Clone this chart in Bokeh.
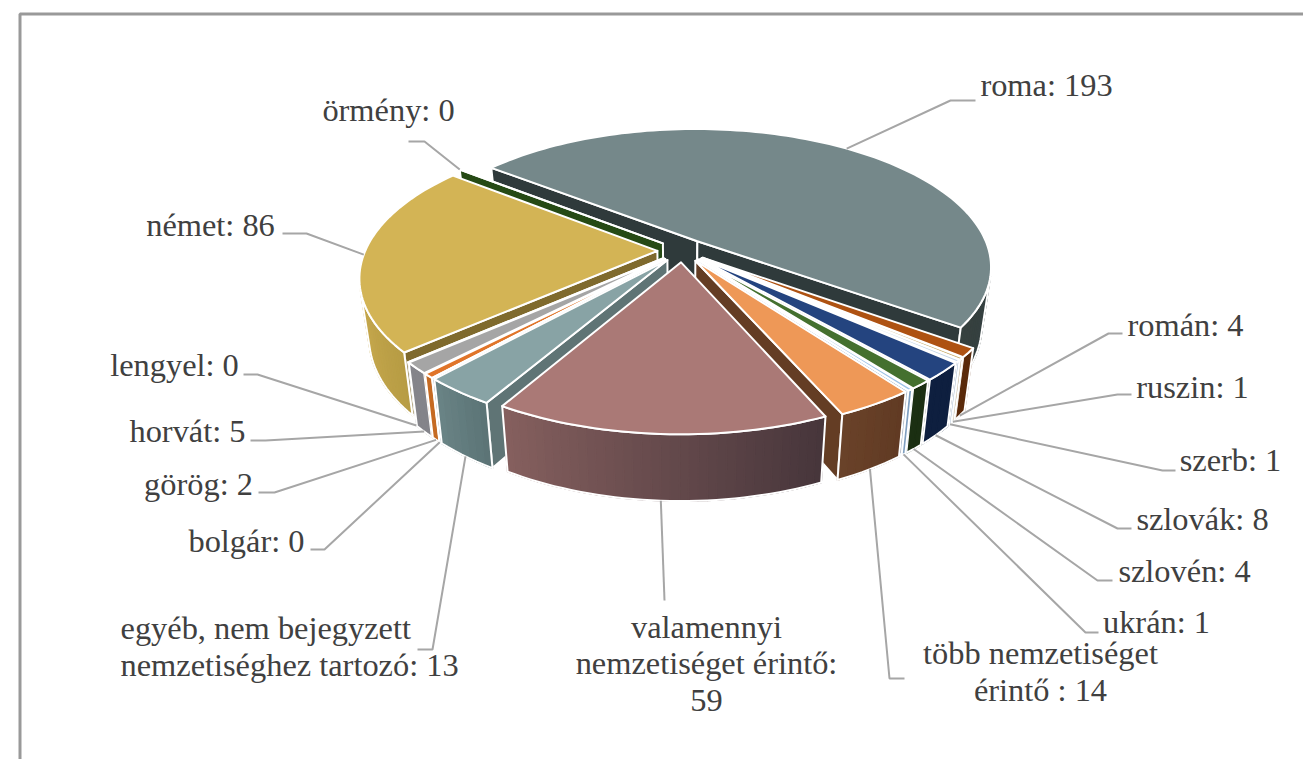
import math
from bokeh.plotting import figure
from bokeh.models import ColumnDataSource, Range1d
from bokeh.core.properties import value
from bokeh.embed import file_html
from bokeh.resources import INLINE

# ---- data (clockwise from the first slice) ----
names = ["roma", "román", "ruszin", "szerb", "szlovák", "szlovén", "ukrán", "több", "valamennyi",
         "egyéb", "bolgár", "görög", "horvát", "lengyel", "német", "örmény"]
values = [193, 4, 1, 1, 8, 4, 1, 14, 59, 13, 0, 2, 5, 0, 86, 0]
labels = ["roma: 193", "román: 4", "ruszin: 1", "szerb: 1", "szlovák: 8", "szlovén: 4", "ukrán: 1",
          "több nemzetiséget\nérintő : 14", "valamennyi\nnemzetiséget érintő:\n59",
          "egyéb, nem bejegyzett\nnemzetiséghez tartozó: 13", "bolgár: 0", "görög: 2", "horvát: 5",
          "lengyel: 0", "német: 86", "örmény: 0"]

# ---- styles: top face, radial wall, outer wall (left-to-right shade) ----
top_colors = ["#75888A", "#AE5212", "#C9AE6E", "#BFD3E6", "#24447F", "#44702F", "#9DC3E6", "#EE9857",
              "#AA7976", "#88A3A5", "#A9A9A9", "#E0752A", "#A5A5A5", "#B0B0B0", "#D3B455", "#264A15"]
side_colors = ["#2F3A3B", "#5A2A0A", "#A89060", "#A0B6CC", "#0E1F3F", "#1B2F12", "#7F9FC0", "#643D24",
               "#5A4244", "#5F7475", "#8A8A90", "#C56A22", "#84848A", "#84848A", "#7F6A2D", "#264A15"]
wall_left = ["#36413F", "#5A2A0A", "#A89060", "#A0B6CC", "#0E1F3F", "#1B2F12", "#7F9FC0", "#6A4229",
             "#86605F", "#6A8486", "#8A8A90", "#C56A22", "#84848A", "#84848A", "#C7A94E", "#264A15"]
wall_right = ["#343F40", "#5A2A0A", "#A89060", "#A0B6CC", "#0E1F3F", "#1B2F12", "#7F9FC0", "#603A23",
              "#46353A", "#5B7375", "#8A8A90", "#C56A22", "#84848A", "#84848A", "#B79C44", "#264A15"]

# ---- label layout (page pixels): label anchor, alignment, leader elbow and end ----
label_x = [1046, 1185, 1192, 1230, 1202, 1184, 1156, 1040, 706, 120, 246, 198, 187, 174, 210, 388]
label_y = [84, 324, 386, 459, 518, 570, 621, 671, 663, 646, 540, 483, 430, 364, 224, 109]
label_align = ["center"] * 9 + ["left"] + ["center"] * 6
elbow_x = [950, 1108, 1117, 1162, 1117, 1097, 1085, 889, 664, 432, 324, 274, 265, 257, 306, 424]
elbow_y = [100, 333, 394, 470, 528, 580, 632, 678, 600, 649, 549, 492, 440, 374, 233, 141]
end_x = [975, 1122, 1131, 1175, 1131, 1112, 1098, 904, 664, 417, 310, 258, 250, 243, 282, 408]
end_y = [100, 333, 394, 470, 528, 580, 632, 678, 600, 649, 549, 492, 440, 374, 233, 141]

# ---- projection of the exploded 3-D pie ----
FIRST_ANGLE = -52.0
CX, CY, SCALE = 682.0, 250.0, 292.0
PERSP, TILT, SHRINK, HEIGHT = 0.182, 0.465, 0.03, 58.0
EXPLODE = 0.086


def proj(x, y, z):
    s = SCALE / (1 + PERSP * y)
    f = 1 - SHRINK * z
    return CX + x * s * f, CY - TILT * y * s * f + z * HEIGHT * s / SCALE


total = sum(values)
starts = []
a = FIRST_ANGLE
for v in values:
    starts.append(a)
    a += 360.0 * v / total
stops = [s + 360.0 * v / total for s, v in zip(starts, values)]
mids = [(s + e) / 2 for s, e in zip(starts, stops)]


def offset(m):
    r = math.radians(m)
    return EXPLODE * math.sin(r), EXPLODE * math.cos(r)


def rim(i, t, z):
    dx, dy = offset(mids[i])
    r = math.radians(t)
    return proj(dx + math.sin(r), dy + math.cos(r), z)


def apex(i, z):
    dx, dy = offset(mids[i])
    return proj(dx, dy, z)


def cross2(p):
    area = 0.0
    for j in range(len(p)):
        x1, y1 = p[j]
        x2, y2 = p[(j + 1) % len(p)]
        area += x1 * y2 - x2 * y1
    return area


def hex_mix(c1, c2, f):
    v1 = [int(c1[k:k + 2], 16) for k in (1, 3, 5)]
    v2 = [int(c2[k:k + 2], 16) for k in (1, 3, 5)]
    return "#%02x%02x%02x" % tuple(round(u + (w - u) * f) for u, w in zip(v1, v2))


xs, ys, fills, alphas, lines, widths = [], [], [], [], [], []


def add(poly, fill, alpha, line, width):
    xs.append([q[0] for q in poly])
    ys.append([q[1] for q in poly])
    fills.append(fill)
    alphas.append(alpha)
    lines.append(line)
    widths.append(width)


order = sorted(range(len(values)), key=lambda i: -math.cos(math.radians(mids[i])))
for i in order:
    a0, a1 = starts[i], stops[i]
    # radial walls
    q0 = [apex(i, 0), rim(i, a0, 0), rim(i, a0, 1), apex(i, 1)]
    q1 = [apex(i, 0), rim(i, a1, 0), rim(i, a1, 1), apex(i, 1)]
    if cross2(q0) < 0:
        add(q0, side_colors[i], 1, "white", 2)
    if cross2(q1) > 0:
        add(q1, side_colors[i], 1, "white", 2)
    # outer wall, facing segments only
    n = max(1, int((a1 - a0) / 1.5))
    steps = [a0 + (a1 - a0) * k / n for k in range(n + 1)]
    seen = [k for k in range(n)
            if cross2([rim(i, steps[k], 0), rim(i, steps[k + 1], 0),
                       rim(i, steps[k + 1], 1), rim(i, steps[k], 1)]) < 0]
    if a1 > a0 and seen:
        for k in seen:
            q = [rim(i, steps[k], 0), rim(i, steps[k + 1], 0),
                 rim(i, steps[k + 1], 1), rim(i, steps[k], 1)]
            f = (k - seen[0] + 0.5) / len(seen)
            c = hex_mix(wall_right[i], wall_left[i], f)
            add(q, c, 1, c, 1.5)
        run = [steps[k] for k in seen] + [steps[seen[-1] + 1]]
        outline = [rim(i, t, 0) for t in run] + [rim(i, t, 1) for t in reversed(run)]
        add(outline, "#ffffff", 0, "white", 2)
    # top face
    arc_n = max(1, int((a1 - a0) / 1.5))
    top = [apex(i, 0)] + [rim(i, a0 + (a1 - a0) * k / arc_n, 0) for k in range(arc_n + 1)]
    add(top, top_colors[i], 1, "white", 2)

p = figure(width=1303, height=759, output_backend="svg", toolbar_location=None,
           x_range=Range1d(0, 1303), y_range=Range1d(759, 0),
           x_axis_type=None, y_axis_type=None, min_border=0, outline_line_color=None)
p.grid.visible = False
p.background_fill_color = "white"

# chart-area frame (top and left edges)
p.line([19.5, 19.5, 1303], [759, 13.5, 13.5], line_color="#999999", line_width=3)

p.patches("xs", "ys", source=ColumnDataSource(dict(xs=xs, ys=ys, fill=fills, alpha=alphas, line=lines, lw=widths)),
          fill_color="fill", fill_alpha="alpha", line_color="line", line_width="lw", line_join="round")

# leader lines start at the slice rim
lead_x, lead_y = [], []
for i in range(len(values)):
    front = math.cos(math.radians(mids[i])) < -0.3
    sx, sy = rim(i, mids[i], 1 if front else 0)
    lead_x.append([sx, elbow_x[i], end_x[i]])
    lead_y.append([sy, elbow_y[i], end_y[i]])
p.multi_line(lead_x, lead_y, line_color="#A6A6A6", line_width=2)

p.text("x", "y", text="t", source=ColumnDataSource(dict(x=label_x, y=label_y, t=labels, al=label_align)),
       text_font=value("Liberation Serif"), text_font_size="32.4px", text_color="#404040",
       text_align="al", text_baseline="middle", text_line_height=1.02)

open("out.html", "w").write(file_html(p, INLINE))
